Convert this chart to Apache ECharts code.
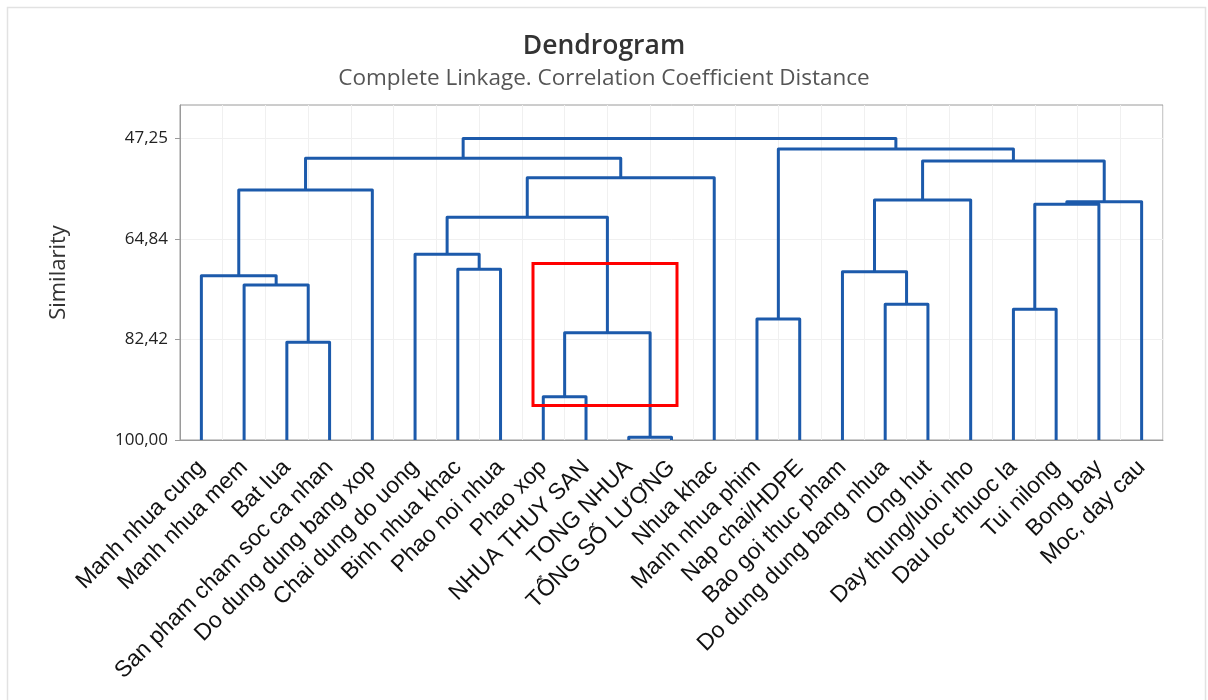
<!DOCTYPE html>
<html><head><meta charset="utf-8">
<script src="https://cdn.jsdelivr.net/npm/echarts@6/dist/echarts.min.js"></script>
<style>html,body{margin:0;padding:0;background:#fff}#c{width:1208px;height:700px}</style>
</head><body><div id="c"></div>
<script>
// Leaves (observations) in dendrogram order
const leaves = ["Manh nhua cung", "Manh nhua mem", "Bat lua", "San pham cham soc ca nhan",
  "Do dung dung bang xop", "Chai dung do uong", "Binh nhua khac", "Phao noi nhua", "Phao xop",
  "NHUA THUY SAN", "TONG NHUA", "TỔNG SỐ LƯỢNG", "Nhua khac", "Manh nhua phim", "Nap chai/HDPE",
  "Bao goi thuc pham", "Do dung dung bang nhua", "Ong hut", "Day thung/luoi nho", "Dau loc thuoc la",
  "Tui nilong", "Bong bay", "Moc, day cau"];
// Merge steps: index < 23 is a leaf, index >= 23 is the cluster made at step (index - 23)
const mergeLeft  = [10, 8, 2, 24, 13, 19, 16, 1, 0, 15, 6, 5, 34, 28, 36, 32, 31, 35, 38, 39, 27, 42];
const mergeRight = [11, 9, 3, 23, 14, 20, 17, 25, 30, 29, 7, 33, 26, 21, 22, 18, 4, 12, 37, 40, 41, 43];
const mergeSimilarity = [99.5, 92.42, 82.91, 81.22, 78.83, 77.14, 76.26, 72.88, 71.25, 70.55, 70.14,
  67.51, 61.04, 58.76, 58.31, 58.01, 56.26, 54.11, 51.19, 50.72, 49.09, 47.25];
// Y axis tick labels (similarity)
const yTickLabels = [47.25, 64.84, 82.42, 100];
const yAxisTopSimilarity = 41.39;

const n = leaves.length;
const nodeX = [], nodeSim = [];
for (let i = 0; i < n; i++) { nodeX[i] = i; nodeSim[i] = 100; }
const segs = [];
for (let k = 0; k < mergeLeft.length; k++) {
  const a = mergeLeft[k], b = mergeRight[k], s = mergeSimilarity[k];
  segs.push([nodeX[a], 100 - nodeSim[a], nodeX[b], 100 - nodeSim[b], 100 - s]);
  nodeX[n + k] = (nodeX[a] + nodeX[b]) / 2;
  nodeSim[n + k] = s;
}
const interval = (100 - yTickLabels[0]) / (yTickLabels.length - 1);

const chart = echarts.init(document.getElementById('c'), null, {renderer: 'canvas'});
chart.setOption({
  animation: false,
  backgroundColor: '#fff',
  title: {
    text: 'Dendrogram', left: 'center', top: 28, itemGap: 7,
    textStyle: {fontSize: 26.5, fontWeight: 600, color: '#333', fontFamily: 'Open Sans'},
    subtext: 'Complete Linkage. Correlation Coefficient Distance',
    subtextStyle: {fontSize: 22.5, color: '#555', fontFamily: 'Open Sans'}
  },
  graphic: [
    {type: 'rect', shape: {x: 7.5, y: 7.5, width: 1198, height: 720}, style: {fill: 'none', stroke: '#e2e2e2', lineWidth: 1.5}, silent: true},
    {type: 'rect', z: 100, shape: {x: 533, y: 263.5, width: 144, height: 142}, style: {fill: 'none', stroke: '#ff0000', lineWidth: 3}, silent: true}
  ],
  grid: {left: 180, right: 45, top: 105, bottom: 260, show: true, borderColor: '#9a9a9a', borderWidth: 1, backgroundColor: 'transparent'},
  xAxis: [
    {type: 'category', data: leaves, boundaryGap: true, position: 'bottom',
      axisLine: {onZero: false, lineStyle: {color: '#9a9a9a'}},
      axisTick: {alignWithLabel: true, length: 5, lineStyle: {color: '#9a9a9a'}},
      axisLabel: {interval: 0, rotate: 45, margin: 24, fontSize: 23, color: '#111', fontFamily: 'Liberation Sans'},
      splitLine: {show: false}},
    {type: 'value', min: -0.5, max: n - 0.5, interval: 1, position: 'bottom',
      axisLine: {show: false, onZero: false}, axisTick: {show: false}, axisLabel: {show: false},
      splitLine: {show: true, lineStyle: {color: '#f0f0f0', width: 1}}}
  ],
  yAxis: {
    type: 'value', min: 0, max: 100 - yAxisTopSimilarity, interval: interval,
    name: 'Similarity', nameLocation: 'middle', nameGap: 110,
    nameTextStyle: {fontSize: 22, color: '#333', fontFamily: 'Open Sans'},
    axisLine: {show: true, onZero: false, lineStyle: {color: '#9a9a9a'}},
    axisTick: {show: true, length: 5, lineStyle: {color: '#9a9a9a'}, customValues: yTickLabels.map(v => 100 - v)},
    axisLabel: {fontSize: 17, color: '#222', fontFamily: 'Open Sans', margin: 12,
      formatter: function (v) {
        const s = 100 - v;
        for (const t of yTickLabels) if (Math.abs(t - s) < 0.05) return t.toFixed(2).replace('.', ',');
        return '';
      }},
    splitLine: {show: true, lineStyle: {color: '#f0f0f0'}}
  },
  series: [{
    type: 'custom', xAxisIndex: 1, yAxisIndex: 0,
    data: segs,
    encode: {x: [0, 2], y: [1, 3, 4]},
    renderItem: function (params, api) {
      const xl = api.value(0), yl = api.value(1), xr = api.value(2), yr = api.value(3), h = api.value(4);
      const pts = [api.coord([xl, yl]), api.coord([xl, h]), api.coord([xr, h]), api.coord([xr, yr])];
      return {type: 'polyline', shape: {points: pts},
        style: {fill: null, stroke: '#1c5aab', lineWidth: 3, lineJoin: 'round', lineCap: 'butt'}};
    }
  }]
});
</script></body></html>
